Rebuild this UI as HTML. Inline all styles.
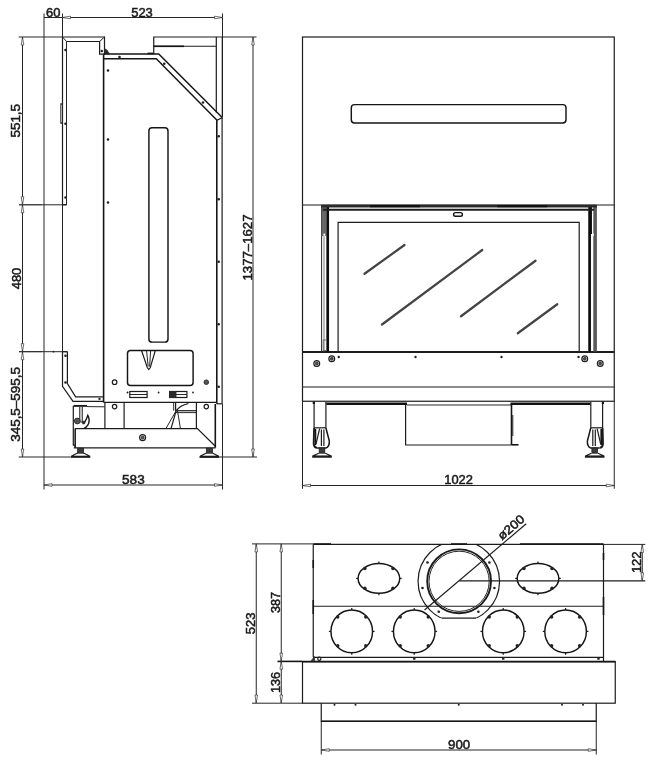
<!DOCTYPE html>
<html><head><meta charset="utf-8"><title>Drawing</title>
<style>
html,body{margin:0;padding:0;background:#fff}
svg{display:block;filter:grayscale(1)}
text{opacity:.999;font-family:"Liberation Sans",sans-serif;fill:#1a1a1a;stroke:#1a1a1a;stroke-width:.5px}
.m{fill:none;stroke:#1c1c1c;stroke-width:1.2}
.t{fill:none;stroke:#262626;stroke-width:1}
.k{fill:none;stroke:#151515;stroke-width:1.6}
.k2{fill:none;stroke:#151515;stroke-width:1.45}
.k3{fill:none;stroke:#1c1c1c;stroke-width:1.9}
.k4{fill:none;stroke:#2a2a2a;stroke-width:2.8}
.k6{fill:none;stroke:#0c0c0c;stroke-width:2.7}
.gb{fill:none;stroke:#5a5a5a;stroke-width:3.6}
.gf{fill:#666;stroke:none}
.w{fill:#fff;stroke:none}
.t2{fill:none;stroke:#666;stroke-width:.9}
.k5{fill:none;stroke:#111;stroke-width:2.4}
.rf{fill:none;stroke:#444;stroke-width:2.2;stroke-linecap:round}
.a{fill:#fff;stroke:#333;stroke-width:.7}
.d{fill:#222;stroke:none}
.f{fill:#2a2a2a;stroke:#2a2a2a;stroke-width:.6}
.mf{fill:#555;stroke:#2a2a2a;stroke-width:.9}
.g{fill:#777;stroke:#2a2a2a;stroke-width:.8}
.dk{fill:#3a3a3a;stroke:#222;stroke-width:.8}
.lg{fill:#bbb;stroke:#333;stroke-width:.8}
</style></head><body>
<svg width="665" height="768" viewBox="0 0 665 768">
<rect width="665" height="768" fill="#fff"/>
<path class="t" d="M44 13.5L44 489.5"/>
<path class="t" d="M62.5 13.5L62.5 37"/>
<path class="t" d="M222.5 13.5L222.5 117"/>
<path class="t" d="M222.5 404L222.5 489.5"/>
<path class="t" d="M44 17.5L222.5 17.5"/>
<path class="a" d="M62.5 17.5L70.5 16.2L70.5 18.8Z"/>
<path class="a" d="M222.5 17.5L214.5 16.2L214.5 18.8Z"/>
<text x="53.3" y="16.6" font-size="12.3" text-anchor="middle" textLength="14.4" lengthAdjust="spacingAndGlyphs">60</text>
<text x="142" y="16.6" font-size="12.3" text-anchor="middle" textLength="21.6" lengthAdjust="spacingAndGlyphs">523</text>
<path class="t" d="M22.5 37L22.5 457"/>
<path class="t" d="M18.75 37L62.5 37"/>
<path class="m" d="M19 204.8L42 204.8"/>
<path class="t" d="M42 204.8L66.5 204.8"/>
<path class="m" d="M19 351.7L42 351.7"/>
<path class="t" d="M42 351.7L67.4 351.7"/>
<circle class="d" cx="53.5" cy="351.7" r="0.9"/>
<path class="t" d="M18.75 457L70.75 457"/>
<path class="a" d="M22.5 37L21.2 45L23.8 45Z"/>
<path class="a" d="M22.5 204.8L21.2 196.8L23.8 196.8Z"/>
<path class="a" d="M22.5 204.8L21.2 212.8L23.8 212.8Z"/>
<path class="a" d="M22.5 351.7L21.2 343.7L23.8 343.7Z"/>
<path class="a" d="M22.5 351.7L21.2 359.7L23.8 359.7Z"/>
<path class="a" d="M22.5 457L21.2 449L23.8 449Z"/>
<text x="20.3" y="120.75" font-size="12.3" text-anchor="middle" transform="rotate(-90 20.3 120.75)" textLength="33.6" lengthAdjust="spacingAndGlyphs">551,5</text>
<text x="20.8" y="278.5" font-size="12.3" text-anchor="middle" transform="rotate(-90 20.8 278.5)" textLength="21.6" lengthAdjust="spacingAndGlyphs">480</text>
<text x="20.3" y="404.4" font-size="12.3" text-anchor="middle" transform="rotate(-90 20.3 404.4)" textLength="74.85" lengthAdjust="spacingAndGlyphs">345,5&#8211;595,5</text>
<path class="t" d="M253 37L253 457"/>
<path class="t" d="M216 37L256.5 37"/>
<path class="t" d="M199.5 457L257 457"/>
<path class="a" d="M253 37L251.7 45L254.3 45Z"/>
<path class="a" d="M253 457L251.7 449L254.3 449Z"/>
<text x="251.8" y="247.5" font-size="12.3" text-anchor="middle" transform="rotate(-90 251.8 247.5)" textLength="66.1" lengthAdjust="spacingAndGlyphs">1377&#8211;1627</text>
<path class="t" d="M44 485L222.5 485"/>
<path class="a" d="M44 485L52 483.7L52 486.3Z"/>
<path class="a" d="M222.5 485L214.5 483.7L214.5 486.3Z"/>
<text x="133.4" y="484.2" font-size="12.3" text-anchor="middle" textLength="22.6" lengthAdjust="spacingAndGlyphs">583</text>
<path class="m" d="M62.5 37L62.5 204.8"/>
<path class="t" d="M66.5 41.5L66.5 204.8"/>
<path class="m" d="M62.5 204.8L66.5 204.8"/>
<rect class="t" x="60.8" y="103.75" width="1.7" height="19.5" rx="0"/>
<circle class="d" cx="65.5" cy="50" r="1.3"/>
<circle class="d" cx="65.5" cy="123.75" r="1.3"/>
<circle class="d" cx="65.5" cy="197.5" r="1.3"/>
<path class="t" d="M62.5 204.8L62.5 351.7"/>
<path class="m" d="M62.5 351.7L62.5 386.4L73 401.3L103.5 401.3"/>
<path class="m" d="M67.4 351.7L67.4 383.6L75.6 396.8L103.5 396.8"/>
<path class="m" d="M62.5 351.7L67.4 351.7"/>
<circle class="d" cx="65.5" cy="355.75" r="1.3"/>
<circle class="d" cx="65.5" cy="382.5" r="1.3"/>
<rect class="d" x="98.5" y="397.9" width="2" height="2"/>
<path class="m" d="M62.5 37L104.5 37L104.5 54.2L99.6 54.2L99.6 41.5L66.5 41.5"/>
<path class="t" d="M62.5 37L66.5 41.5"/>
<path class="t" d="M104.5 37L99.6 41.5"/>
<path class="f" d="M104.5 48.5L107 50L109.5 53.8L104.5 53.8Z"/>
<circle class="d" cx="101.8" cy="51" r="1.3"/>
<path class="k" d="M103.6 54.5L103.6 402.5"/>
<path class="k2" d="M103.6 54L158.75 54L222.2 117.6"/>
<path class="k2" d="M103.6 58.75L156.3 58.75L217 120.2"/>
<path class="m" d="M217 120.2L222.2 117.6"/>
<path class="k" d="M147.5 53.4L153.75 53.4"/>
<path class="m" d="M153.75 54L153.75 37L216.25 37"/>
<path class="m" d="M153.75 46.25L216.25 46.25"/>
<path class="k" d="M153.75 46.3L184 46.3"/>
<path class="m" d="M216.3 37L216.3 112.5"/>
<path class="m" d="M222.3 37L222.3 117.5"/>
<path class="k" d="M216.8 120L216.8 403.7"/>
<path class="m" d="M222.1 117.5L222.1 404"/>
<path class="m" d="M216.8 403.8L222.1 403.8"/>
<circle class="d" cx="119.5" cy="57" r="1.3"/>
<circle class="d" cx="108" cy="70.5" r="1.3"/>
<circle class="d" cx="108" cy="139.5" r="1.3"/>
<circle class="d" cx="108" cy="202.5" r="1.3"/>
<circle class="d" cx="164.25" cy="63.75" r="1.3"/>
<circle class="d" cx="203" cy="102.5" r="1.3"/>
<circle class="d" cx="218.7" cy="136.25" r="1.3"/>
<circle class="d" cx="218.7" cy="199.25" r="1.3"/>
<circle class="d" cx="218.7" cy="261.75" r="1.3"/>
<circle class="d" cx="218.7" cy="324.25" r="1.3"/>
<circle class="d" cx="218.7" cy="386.75" r="1.3"/>
<rect class="k2" x="148.9" y="127.8" width="19.1" height="214.3" rx="3.2"/>
<rect class="k2" x="127.5" y="350.4" width="65.6" height="35" rx="3"/>
<path class="m" d="M141.6 350.8L147.3 367.5L148.8 369.5L150.3 367.5L155.2 350.8"/>
<path class="t" d="M146.6 351L148.2 366.5"/>
<path class="t" d="M150.6 351L149.6 366.5"/>
<rect class="m" x="129.8" y="391.5" width="17.3" height="6" rx="0"/>
<path class="t" d="M129.8 394.5L147.1 394.5"/>
<rect class="m" x="169.6" y="391.5" width="17.3" height="6" rx="0"/>
<path class="t" d="M169.6 394.5L186.9 394.5"/>
<rect class="f" x="169.6" y="391.5" width="6.5" height="6" rx="0"/>
<circle class="d" cx="127.5" cy="392.4" r="1"/>
<circle class="d" cx="158.6" cy="392.5" r="0.9"/>
<circle class="d" cx="193" cy="392.5" r="0.9"/>
<circle class="m" cx="114.6" cy="382.2" r="2.3"/>
<circle class="mf" cx="206.3" cy="382.2" r="2.3"/>
<circle class="m" cx="114.6" cy="406.6" r="2.2"/>
<circle class="m" cx="206.3" cy="406.6" r="2.2"/>
<path class="m" d="M103.6 402.3L217 402.3"/>
<path class="m" d="M104.9 402.5L104.9 428.5"/>
<path class="m" d="M124.1 402.5L124.1 428.5"/>
<path class="m" d="M196.4 402.5L196.4 428.5"/>
<path class="m" d="M75.4 447.6L75.4 428.6L197.4 428.6L215.6 446.5"/>
<path class="m" d="M73.8 447.8L215.6 447.8"/>
<path class="k" d="M215.3 404L215.3 447.6"/>
<circle class="m" cx="142.6" cy="437.6" r="3"/>
<circle class="mf" cx="142.6" cy="437.6" r="1.4"/>
<path class="m" d="M188.4 403.5C182 405 178.5 407.5 176.2 410.7"/>
<path class="t" d="M173.7 403L173.7 410.7"/>
<path class="m" d="M175.6 403L175.6 410.7"/>
<path class="m" d="M175.6 410.7L196.4 410.7"/>
<path class="t" d="M176 412.6L196.4 412.6"/>
<path class="t" d="M176.2 410.7L166 428.4"/>
<path class="m" d="M176.2 410.7L171.1 428.4"/>
<path class="t" d="M177.5 410.7L180.4 428.4"/>
<path class="m" d="M73.3 405.9L73.3 445.2L75 445.2L75 448"/>
<path class="t" d="M75 428.6L75 447.6"/>
<path class="k3" d="M73.4 405.9L87 405.9"/>
<path class="t" d="M87 406.6L104.6 406.8"/>
<rect class="lg" x="79.6" y="406.5" width="2.9" height="15.5" rx="0"/>
<path class="k2" d="M83.4 423.2C85.5 421.5 86.8 418.5 87.8 415.4C89.6 418 89.6 422.5 87.8 425.2C86.8 426.8 85.5 427.8 84 428.4"/>
<circle class="f" cx="83.6" cy="422.6" r="1.5"/>
<circle class="mf" cx="77.3" cy="421" r="2.9"/>
<rect class="dk" x="77.6" y="448.2" width="6" height="5" rx="0"/>
<path class="m" d="M77.6 453L71.3 456.3L89.89999999999999 456.3L83.6 453"/>
<path class="k3" d="M70.89999999999999 456.9L90.3 456.9"/>
<rect class="dk" x="206.4" y="448.2" width="6" height="5" rx="0"/>
<path class="m" d="M206.4 453L200.1 456.3L218.70000000000002 456.3L212.4 453"/>
<path class="k3" d="M199.70000000000002 456.9L219.1 456.9"/>
<rect class="m" x="302.5" y="37" width="311.75" height="364.25" rx="0"/>
<path class="m" d="M302.5 205L614.25 205"/>
<path class="k3" d="M302.5 352L614.25 352"/>
<path class="m" d="M302.5 387L614.25 387"/>
<path class="t" d="M302.5 401.25L302.5 488.75"/>
<path class="t" d="M614.25 401.25L614.25 488.75"/>
<path class="t" d="M302.5 485.5L614.25 485.5"/>
<path class="a" d="M302.5 485.5L310.5 484.2L310.5 486.8Z"/>
<path class="a" d="M614.25 485.5L606.25 484.2L606.25 486.8Z"/>
<text x="458.6" y="484.2" font-size="12.3" text-anchor="middle" textLength="28.6" lengthAdjust="spacingAndGlyphs">1022</text>
<rect class="k2" x="351.3" y="104.6" width="214.7" height="18.4" rx="3.2"/>
<path class="t" d="M321.6 205L321.6 351.5"/>
<path class="t2" d="M324 236L324 351.5"/>
<rect class="gf" x="321.6" y="207" width="4.8" height="29" rx="0"/>
<path class="gb" d="M595.1 205L595.1 351.5"/>
<path class="k6" d="M327.7 206L327.7 351.5"/>
<path class="k6" d="M589.6 206L589.6 351.5"/>
<path class="k6" d="M590.6 207L590.6 234"/>
<path class="k4" d="M321.5 206.1L596.9 206.1"/>
<path class="k5" d="M370 206.1L420 206.1"/>
<path class="k5" d="M497.3 206.1L547.3 206.1"/>
<path class="k3" d="M322.8 209.8L594 209.8"/>
<rect class="w" x="323.4" y="233.6" width="1.8" height="2.2" rx="0"/>
<rect class="w" x="592" y="233.6" width="1.8" height="2.2" rx="0"/>
<rect class="t2" x="323.2" y="340" width="3.2" height="10.5" rx="0"/>
<path class="m" d="M338.1 351.5L338.1 222.4L579.2 222.4L579.2 351.5"/>
<rect class="k2" x="453.6" y="212.6" width="8.8" height="3.6" rx="1.8"/>
<path class="rf" d="M364.5 273.75L404.5 245"/>
<path class="rf" d="M382 324.5L482.25 250"/>
<path class="rf" d="M461 316.25L535.5 260.75"/>
<path class="rf" d="M517.75 333.25L557.25 304.25"/>
<circle class="m" cx="316.75" cy="363.5" r="2.9"/>
<circle class="mf" cx="316.75" cy="363.5" r="1.4"/>
<circle class="m" cx="331.75" cy="358.75" r="2.9"/>
<circle class="mf" cx="331.75" cy="358.75" r="1.4"/>
<circle class="m" cx="584.75" cy="358.75" r="2.9"/>
<circle class="mf" cx="584.75" cy="358.75" r="1.4"/>
<circle class="m" cx="600.25" cy="363.5" r="2.9"/>
<circle class="mf" cx="600.25" cy="363.5" r="1.4"/>
<circle class="d" cx="338.75" cy="357" r="1.2"/>
<circle class="d" cx="415.5" cy="357" r="1.2"/>
<circle class="d" cx="501.5" cy="357" r="1.2"/>
<circle class="d" cx="578.5" cy="357" r="1.2"/>
<path class="k5" d="M326.3 403.7L407 403.7"/>
<path class="k5" d="M510.5 403.7L590.5 403.7"/>
<path class="k5" d="M312.7 402.8L315 402.8"/>
<path class="k5" d="M601.8 402.8L604 402.8"/>
<path class="t" d="M407 405L511 405"/>
<path class="m" d="M405.6 405L405.6 445L511.5 445"/>
<path class="k" d="M511.5 404L511.5 445"/>
<path class="k" d="M511.5 444.8L518.5 444.8"/>
<path class="t" d="M512.8 415L512.8 436"/>
<path class="m" d="M314.1 402L314.1 427.8"/>
<path class="m" d="M325.9 402L325.9 427.8"/>
<path class="m" d="M314.1 427.8L325.9 427.8"/>
<path class="k3" d="M314.1 427.8L313.70000000000005 444C314.1 446.5 315.6 447.8 317.1 447.9"/>
<path class="k2" d="M325.9 427.8L329.29999999999995 441C329.7 444.5 327.9 447.5 326.29999999999995 447.9L317.1 447.9"/>
<path class="k" d="M315.5 429L315.5 445"/>
<path class="m" d="M319.6 428.7L316.0 444.2"/>
<path class="m" d="M321.40000000000003 429.5L321.40000000000003 446"/>
<path class="m" d="M323.90000000000003 429.5L323.90000000000003 446"/>
<rect class="dk" x="319.2" y="448" width="5.6" height="5.2" rx="0"/>
<path class="m" d="M318.8 453.2L312.6 456L331.4 456L325.2 453.2"/>
<path class="k3" d="M312.2 456.8L331.8 456.8"/>
<path class="m" d="M590.8000000000001 402L590.8000000000001 427.8"/>
<path class="m" d="M602.6 402L602.6 427.8"/>
<path class="m" d="M590.8000000000001 427.8L602.6 427.8"/>
<path class="k3" d="M602.6 427.8L603.0 444C602.6 446.5 601.1 447.8 599.6 447.9"/>
<path class="k2" d="M590.8000000000001 427.8L587.4000000000001 441C587.0000000000001 444.5 588.8000000000001 447.5 590.4000000000001 447.9L599.6 447.9"/>
<path class="k" d="M601.2 429L601.2 445"/>
<path class="m" d="M597.1 428.7L600.7 444.2"/>
<path class="m" d="M595.3000000000001 429.5L595.3000000000001 446"/>
<path class="m" d="M592.8000000000001 429.5L592.8000000000001 446"/>
<rect class="dk" x="591.9000000000001" y="448" width="5.6" height="5.2" rx="0"/>
<path class="m" d="M591.5 453.2L585.3000000000001 456L604.1 456L597.9000000000001 453.2"/>
<path class="k3" d="M584.9000000000001 456.8L604.5 456.8"/>
<path class="t" d="M252 543.9L313.25 543.9"/>
<path class="m" d="M313.25 544.4L603.5 544.4"/>
<path class="t" d="M603.5 544.4L645.25 544.4"/>
<path class="t" d="M256.25 543.9L256.25 703"/>
<path class="t" d="M281.25 543.9L281.25 703"/>
<path class="t" d="M252 703.2L302.5 703.2"/>
<path class="k" d="M277.5 661.4L302.5 661.4"/>
<path class="a" d="M256.25 543.9L254.95 551.9L257.55 551.9Z"/>
<path class="a" d="M256.25 703L254.95 695L257.55 695Z"/>
<path class="a" d="M281.25 543.9L279.95 551.9L282.55 551.9Z"/>
<path class="a" d="M281.25 661.2L279.95 653.2L282.55 653.2Z"/>
<path class="a" d="M281.25 661.2L279.95 669.2L282.55 669.2Z"/>
<path class="a" d="M281.25 703L279.95 695L282.55 695Z"/>
<text x="255.3" y="623.4" font-size="12.3" text-anchor="middle" transform="rotate(-90 255.3 623.4)" textLength="21.6" lengthAdjust="spacingAndGlyphs">523</text>
<text x="280.3" y="602.5" font-size="12.3" text-anchor="middle" transform="rotate(-90 280.3 602.5)" textLength="21.1" lengthAdjust="spacingAndGlyphs">387</text>
<text x="280.3" y="682.5" font-size="12.3" text-anchor="middle" transform="rotate(-90 280.3 682.5)" textLength="21.1" lengthAdjust="spacingAndGlyphs">136</text>
<path class="m" d="M313.25 544.4L313.25 657.3"/>
<path class="m" d="M603.5 544.4L603.5 661.5"/>
<path class="m" d="M313.25 606.25L603.5 606.25"/>
<path class="m" d="M313.25 657.3L603.5 657.3"/>
<rect class="m" x="302.5" y="661.6" width="312.75" height="41.6" rx="0"/>
<path class="k" d="M302.5 661.6L615.25 661.6"/>
<path class="m" d="M321.25 703.2L321.25 721.3L596.25 721.3L596.25 703.2"/>
<path class="k" d="M321.25 721.3L596.25 721.3"/>
<path class="t" d="M321.25 721.3L321.25 754.5"/>
<path class="t" d="M596.25 721.3L596.25 754.5"/>
<path class="t" d="M321.25 750L596.25 750"/>
<path class="a" d="M321.25 750L329.25 748.7L329.25 751.3Z"/>
<path class="a" d="M596.25 750L588.25 748.7L588.25 751.3Z"/>
<text x="459.1" y="749.1999999999999" font-size="12.3" text-anchor="middle" textLength="22.1" lengthAdjust="spacingAndGlyphs">900</text>
<circle class="d" cx="334.5" cy="704.7" r="1"/>
<circle class="d" cx="355.5" cy="704.7" r="1"/>
<circle class="d" cx="458.75" cy="704.7" r="1"/>
<circle class="d" cx="562" cy="704.7" r="1"/>
<circle class="d" cx="583" cy="704.7" r="1"/>
<rect class="d" x="413.05" y="657.3" width="2.4" height="2.4"/>
<rect class="d" x="502.05" y="657.3" width="2.4" height="2.4"/>
<rect class="d" x="597.3" y="657.3" width="2.4" height="2.4"/>
<circle class="m" cx="319.3" cy="658.8" r="1.6"/>
<path class="f" d="M311 660.8L314.6 656.5L314.6 660.8Z"/>
<path class="k" d="M313.25 560L313.25 568"/>
<path class="k" d="M313.25 600L313.25 614"/>
<path class="k" d="M603.5 553L603.5 560"/>
<path class="k" d="M603.5 597L603.5 615"/>
<path class="k" d="M313.25 544L331 544"/>
<path class="k" d="M451 544L467 544"/>
<path class="k" d="M520 544L603.5 544"/>
<ellipse class="k2" cx="378.9" cy="578.4" rx="20.8" ry="14.9"/>
<path class="m" d="M399.7 578.4L401.7 578.4"/>
<circle class="d" cx="392.90" cy="588.23" r="1.7"/>
<path class="m" d="M378.9 593.3L378.9 595.3"/>
<circle class="d" cx="364.90" cy="588.23" r="1.7"/>
<path class="m" d="M358.1 578.4L356.1 578.4"/>
<circle class="d" cx="364.90" cy="568.57" r="1.7"/>
<path class="m" d="M378.9 563.5L378.9 561.5"/>
<circle class="d" cx="392.90" cy="568.57" r="1.7"/>
<ellipse class="k2" cx="538" cy="578.4" rx="20.8" ry="14.9"/>
<path class="m" d="M558.8 578.4L560.8 578.4"/>
<circle class="d" cx="552.00" cy="588.23" r="1.7"/>
<path class="m" d="M538.0 593.3L538.0 595.3"/>
<circle class="d" cx="524.00" cy="588.23" r="1.7"/>
<path class="m" d="M517.2 578.4L515.2 578.4"/>
<circle class="d" cx="524.00" cy="568.57" r="1.7"/>
<path class="m" d="M538.0 563.5L538.0 561.5"/>
<circle class="d" cx="552.00" cy="568.57" r="1.7"/>
<ellipse class="k2" cx="351.75" cy="631.4" rx="20.8" ry="21.4"/>
<path class="m" d="M372.55 631.4L374.55 631.4"/>
<circle class="d" cx="365.75" cy="645.82" r="1.7"/>
<path class="m" d="M351.75 652.8L351.75 654.8"/>
<circle class="d" cx="337.75" cy="645.82" r="1.7"/>
<path class="m" d="M330.95 631.4L328.95 631.4"/>
<circle class="d" cx="337.75" cy="616.98" r="1.7"/>
<path class="m" d="M351.75 610.0L351.75 608.0"/>
<circle class="d" cx="365.75" cy="616.98" r="1.7"/>
<ellipse class="k2" cx="414.25" cy="631.4" rx="20.8" ry="21.4"/>
<path class="m" d="M435.05 631.4L437.05 631.4"/>
<circle class="d" cx="428.25" cy="645.82" r="1.7"/>
<path class="m" d="M414.25 652.8L414.25 654.8"/>
<circle class="d" cx="400.25" cy="645.82" r="1.7"/>
<path class="m" d="M393.45 631.4L391.45 631.4"/>
<circle class="d" cx="400.25" cy="616.98" r="1.7"/>
<path class="m" d="M414.25 610.0L414.25 608.0"/>
<circle class="d" cx="428.25" cy="616.98" r="1.7"/>
<ellipse class="k2" cx="503.25" cy="631.4" rx="20.8" ry="21.4"/>
<path class="m" d="M524.05 631.4L526.05 631.4"/>
<circle class="d" cx="517.25" cy="645.82" r="1.7"/>
<path class="m" d="M503.25 652.8L503.25 654.8"/>
<circle class="d" cx="489.25" cy="645.82" r="1.7"/>
<path class="m" d="M482.45 631.4L480.45 631.4"/>
<circle class="d" cx="489.25" cy="616.98" r="1.7"/>
<path class="m" d="M503.25 610.0L503.25 608.0"/>
<circle class="d" cx="517.25" cy="616.98" r="1.7"/>
<ellipse class="k2" cx="565.6" cy="631.4" rx="20.8" ry="21.4"/>
<path class="m" d="M586.4 631.4L588.4 631.4"/>
<circle class="d" cx="579.60" cy="645.82" r="1.7"/>
<path class="m" d="M565.6 652.8L565.6 654.8"/>
<circle class="d" cx="551.60" cy="645.82" r="1.7"/>
<path class="m" d="M544.8 631.4L542.8 631.4"/>
<circle class="d" cx="551.60" cy="616.98" r="1.7"/>
<path class="m" d="M565.6 610.0L565.6 608.0"/>
<circle class="d" cx="579.60" cy="616.98" r="1.7"/>
<clipPath id="cp"><rect x="400" y="544.4" width="120" height="73.8"/></clipPath>
<circle class="m" cx="458.8" cy="581.3" r="40.75" clip-path="url(#cp)"/>
<path class="m" d="M441.8 618.2L476 618.2"/>
<circle class="k3" cx="459.1" cy="581.3" r="31.9"/>
<circle class="t" cx="459.1" cy="581.3" r="30.1"/>
<circle class="d" cx="427.5" cy="562.5" r="1.3"/>
<circle class="d" cx="489.4" cy="562.5" r="1.3"/>
<circle class="d" cx="422.5" cy="588" r="1.3"/>
<circle class="d" cx="494.4" cy="588" r="1.3"/>
<circle class="d" cx="438.75" cy="611.75" r="1.3"/>
<circle class="d" cx="478.4" cy="611.75" r="1.3"/>
<path class="m" d="M424.5 610L526.25 523.75"/>
<path class="m" d="M459.4 580.9L645.25 580.9"/>
<path class="t" d="M642.25 544.4L642.25 580.9"/>
<path class="a" d="M642.25 544.4L640.95 552.4L643.55 552.4Z"/>
<path class="a" d="M642.25 580.9L640.95 572.9L643.55 572.9Z"/>
<text x="641.3" y="562.3" font-size="12.3" text-anchor="middle" transform="rotate(-90 641.3 562.3)" textLength="21.6" lengthAdjust="spacingAndGlyphs">122</text>
<text x="513.8" y="530.5" font-size="12.3" text-anchor="middle" transform="rotate(-40.3 513.8 530.5)" textLength="31.1" lengthAdjust="spacingAndGlyphs">&#248;200</text>
</svg>
</body></html>
